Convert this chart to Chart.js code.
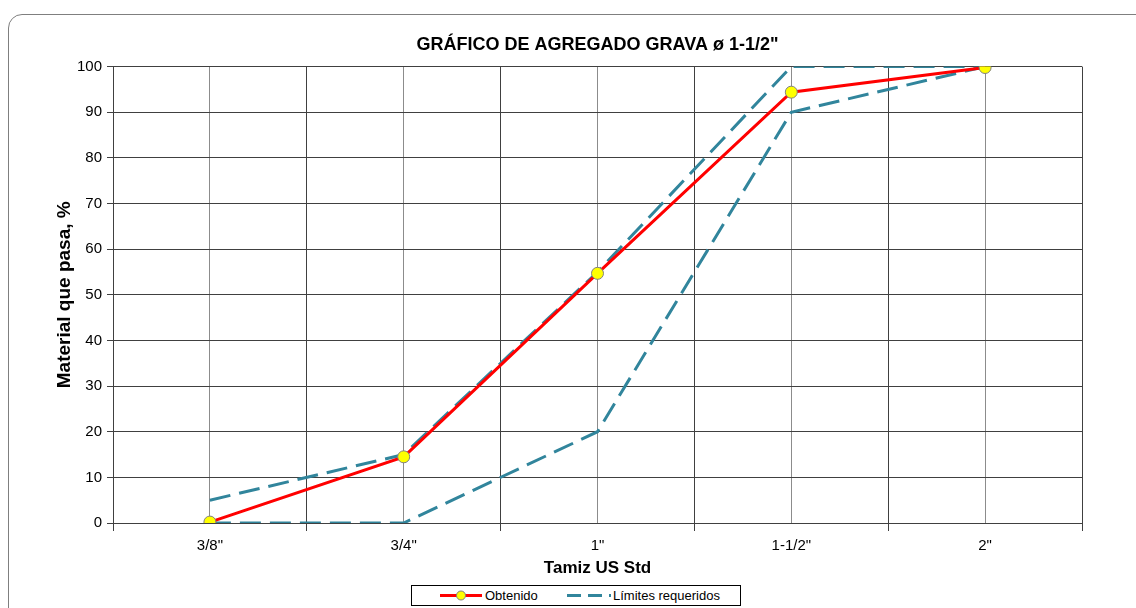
<!DOCTYPE html>
<html>
<head>
<meta charset="utf-8">
<script src="https://cdn.jsdelivr.net/npm/chart.js@4/dist/chart.umd.min.js"></script>
<style>
  html, body { margin: 0; padding: 0; background: #fff; overflow: hidden; }
  #wrap { position: relative; width: 1136px; height: 608px; }
  #frame { position: absolute; left: 8px; top: 14px; width: 1150px; height: 620px; border: 1px solid #7f7f7f; border-radius: 14px; box-sizing: border-box; }
  #c { position: absolute; left: 0; top: 0; }
  #legend { position: absolute; left: 411px; top: 585px; width: 330px; height: 21px; border: 1px solid #000; box-sizing: border-box; background: #fff;
    font-family: "Liberation Sans", Arial, sans-serif; font-size: 13px; color: #000; }
  #legend .it { position: absolute; top: 0; height: 19px; line-height: 19px; white-space: nowrap; }
  #legend svg { position: absolute; top: 0; }
</style>
</head>
<body>
<div id="wrap">
  <div id="frame"></div>
  <canvas id="c" width="1136" height="608"></canvas>
  <div id="legend">
    <svg style="left:27px" width="44" height="19"><line x1="1" y1="9.5" x2="43" y2="9.5" stroke="#ff0000" stroke-width="3"/><circle cx="22" cy="9.5" r="4.5" fill="#ffff00" stroke="#808080" stroke-width="1"/></svg>
    <span class="it" style="left:73px">Obtenido</span>
    <svg style="left:154px" width="46" height="19"><line x1="1" y1="9.5" x2="45" y2="9.5" stroke="#31859c" stroke-width="3" stroke-dasharray="14 7"/></svg>
    <span class="it" style="left:201px">Límites requeridos</span>
  </div>
</div>
<script>
const categories = ['3/8"', '3/4"', '1"', '1-1/2"', '2"'];
const obtenido = [0.2, 14.5, 54.7, 94.4, 99.8];
const limiteSuperior = [5, 15, 55, 100, 100];
const limiteInferior = [0, 0, 20, 90, 100];
const yTicks = [0, 10, 20, 30, 40, 50, 60, 70, 80, 90, 100];

const toXY = arr => arr.map((v, i) => ({ x: i, y: v }));
const FONT = '"Liberation Sans", Arial, sans-serif';
const TEAL = '#31859c';

new Chart(document.getElementById('c'), {
  type: 'line',
  data: {
    datasets: [
      { label: 'Obtenido', data: toXY(obtenido), borderColor: '#ff0000', borderWidth: 3, pointRadius: 0, tension: 0, order: 2 },
      { label: 'Límites requeridos', data: toXY(limiteSuperior), borderColor: TEAL, borderWidth: 3, borderDash: [21, 9], pointRadius: 0, tension: 0, order: 3 },
      { label: 'Límites requeridos (inf)', data: toXY(limiteInferior), borderColor: TEAL, borderWidth: 3, borderDash: [21, 9], pointRadius: 0, tension: 0, order: 3 },
      { label: 'Obtenido (puntos)', data: toXY(obtenido), showLine: false, pointRadius: 6, pointBackgroundColor: '#ffff00', pointBorderColor: '#808080', pointBorderWidth: 1, order: 1 }
    ]
  },
  options: {
    responsive: false,
    animation: false,
    events: [],
    layout: { padding: { left: 0, right: 54, top: 0, bottom: 29 } },
    plugins: {
      legend: { display: false },
      tooltip: { enabled: false },
      title: {
        display: true,
        fullSize: false,
        text: 'GRÁFICO DE AGREGADO GRAVA ø 1-1/2"',
        color: '#000',
        font: { family: FONT, size: 18, weight: 'bold' },
        padding: { top: 34, bottom: 11 }
      }
    },
    scales: {
      x: {
        type: 'linear',
        min: -0.5,
        max: categories.length - 0.5,
        afterBuildTicks: s => {
          const t = [];
          for (let v = -0.5; v <= categories.length - 0.5 + 1e-9; v += 0.5) t.push({ value: v });
          s.ticks = t;
        },
        afterFit: s => { s.height = 56; },
        border: { color: '#404040', width: 1 },
        grid: {
          color: c => (Number.isInteger(c.tick.value) ? '#8c8c8c' : '#404040'),
          tickColor: c => (Number.isInteger(c.tick.value) ? 'rgba(0,0,0,0)' : '#404040'),
          tickLength: 8,
          lineWidth: 1
        },
        ticks: {
          autoSkip: false,
          maxRotation: 0,
          padding: 6,
          color: '#000',
          font: { family: FONT, size: 15 },
          callback: v => (Number.isInteger(v) ? categories[v] : '')
        },
        title: {
          display: true,
          text: 'Tamiz US Std',
          color: '#000',
          font: { family: FONT, size: 17, weight: 'bold' },
          padding: { top: 0, bottom: 0 }
        }
      },
      y: {
        min: 0,
        max: 100,
        afterBuildTicks: s => { s.ticks = yTicks.map(v => ({ value: v })); },
        afterFit: s => { s.width = 113; },
        border: { color: '#404040', width: 1 },
        grid: { color: '#404040', tickColor: '#404040', tickLength: 6, lineWidth: 1 },
        ticks: { padding: 5, color: '#000', font: { family: FONT, size: 15 } },
        title: {
          display: true,
          text: 'Material que pasa, %',
          color: '#000',
          font: { family: FONT, size: 19, weight: 'bold' },
          padding: { top: 53, bottom: 0 }
        }
      }
    }
  }
});
</script>
</body>
</html>
